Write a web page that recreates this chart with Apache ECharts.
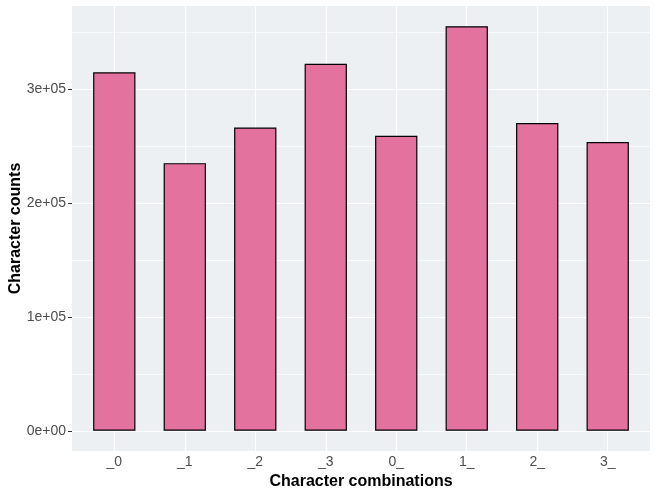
<!DOCTYPE html>
<html>
<head>
<meta charset="utf-8">
<script src="https://cdn.jsdelivr.net/npm/echarts@6/dist/echarts.min.js"></script>
<style>html,body{margin:0;padding:0;background:#fff}#c{width:656px;height:492px}</style>
</head>
<body>
<div id="c"></div>
<script>
const categories = ['_0', '_1', '_2', '_3', '0_', '1_', '2_', '3_'];
const counts = [314600, 234900, 266200, 322200, 258900, 355100, 270100, 253400];
const yMajorTicks = [0, 100000, 200000, 300000];
const yMinorLines = [50000, 150000, 250000, 350000];
const xPositions = [1, 2, 3, 4, 5, 6, 7, 8];

const maxVal = Math.max(...counts);
const yMin = -0.05 * maxVal, yMax = 1.05 * maxVal;

function sci(v) {
  if (v === 0) return '0e+00';
  const e = Math.floor(Math.log10(Math.abs(v)));
  const m = v / Math.pow(10, e);
  return (Math.round(m * 100) / 100) + 'e+' + String(e).padStart(2, '0');
}

const chart = echarts.init(document.getElementById('c'), null, {renderer: 'canvas'});
const font = 'Liberation Sans, Arial, Helvetica, sans-serif';
chart.setOption({
  animation: false,
  backgroundColor: '#ffffff',
  grid: {left: 72, right: 6, top: 6, bottom: 41, show: true, backgroundColor: '#EDF0F2', borderWidth: 0, containLabel: false, outerBoundsMode: 'none'},
  xAxis: {
    type: 'value', min: 0.4, max: 8.6,
    axisLine: {show: false},
    splitLine: {show: false},
    axisTick: {show: true, length: 4, lineStyle: {color: '#333333', width: 1}, customValues: xPositions},
    axisLabel: {customValues: xPositions, formatter: v => categories[Math.round(v) - 1], color: '#4D4D4D', fontSize: 14, fontFamily: font, margin: 4},
    name: 'Character combinations', nameLocation: 'middle', nameGap: 23, nameMoveOverlap: false,
    nameTextStyle: {color: '#000', fontWeight: 'bold', fontSize: 16, fontFamily: font}
  },
  yAxis: {
    type: 'value', min: yMin, max: yMax,
    axisLine: {show: false},
    splitLine: {show: false},
    axisTick: {show: true, length: 4, lineStyle: {color: '#333333', width: 1}, customValues: yMajorTicks},
    axisLabel: {customValues: yMajorTicks, formatter: v => sci(v), color: '#4D4D4D', fontSize: 14, fontFamily: font, margin: 6},
    name: 'Character counts', nameLocation: 'middle', nameGap: 48, nameMoveOverlap: false,
    nameTextStyle: {color: '#000', fontWeight: 'bold', fontSize: 16, fontFamily: font}
  },
  series: [
    {
      type: 'line', data: [], z: 1, silent: true,
      markLine: {
        silent: true, symbol: ['none', 'none'], label: {show: false}, animation: false,
        data: [
          ...yMinorLines.map(v => ({yAxis: v, lineStyle: {color: '#ffffff', width: 0.6, type: 'solid'}})),
          ...yMajorTicks.map(v => ({yAxis: v, lineStyle: {color: '#ffffff', width: 1.2, type: 'solid'}})),
          ...xPositions.map(v => ({xAxis: v, lineStyle: {color: '#ffffff', width: 1.2, type: 'solid'}}))
        ]
      }
    },
    {
      type: 'bar', z: 2, zlevel: 1,
      data: counts.map((v, i) => [xPositions[i], v]),
      barWidth: 42.3,
      itemStyle: {color: '#E4729F', borderColor: '#000000', borderWidth: 1.2}
    }
  ]
});
</script>
</body>
</html>
